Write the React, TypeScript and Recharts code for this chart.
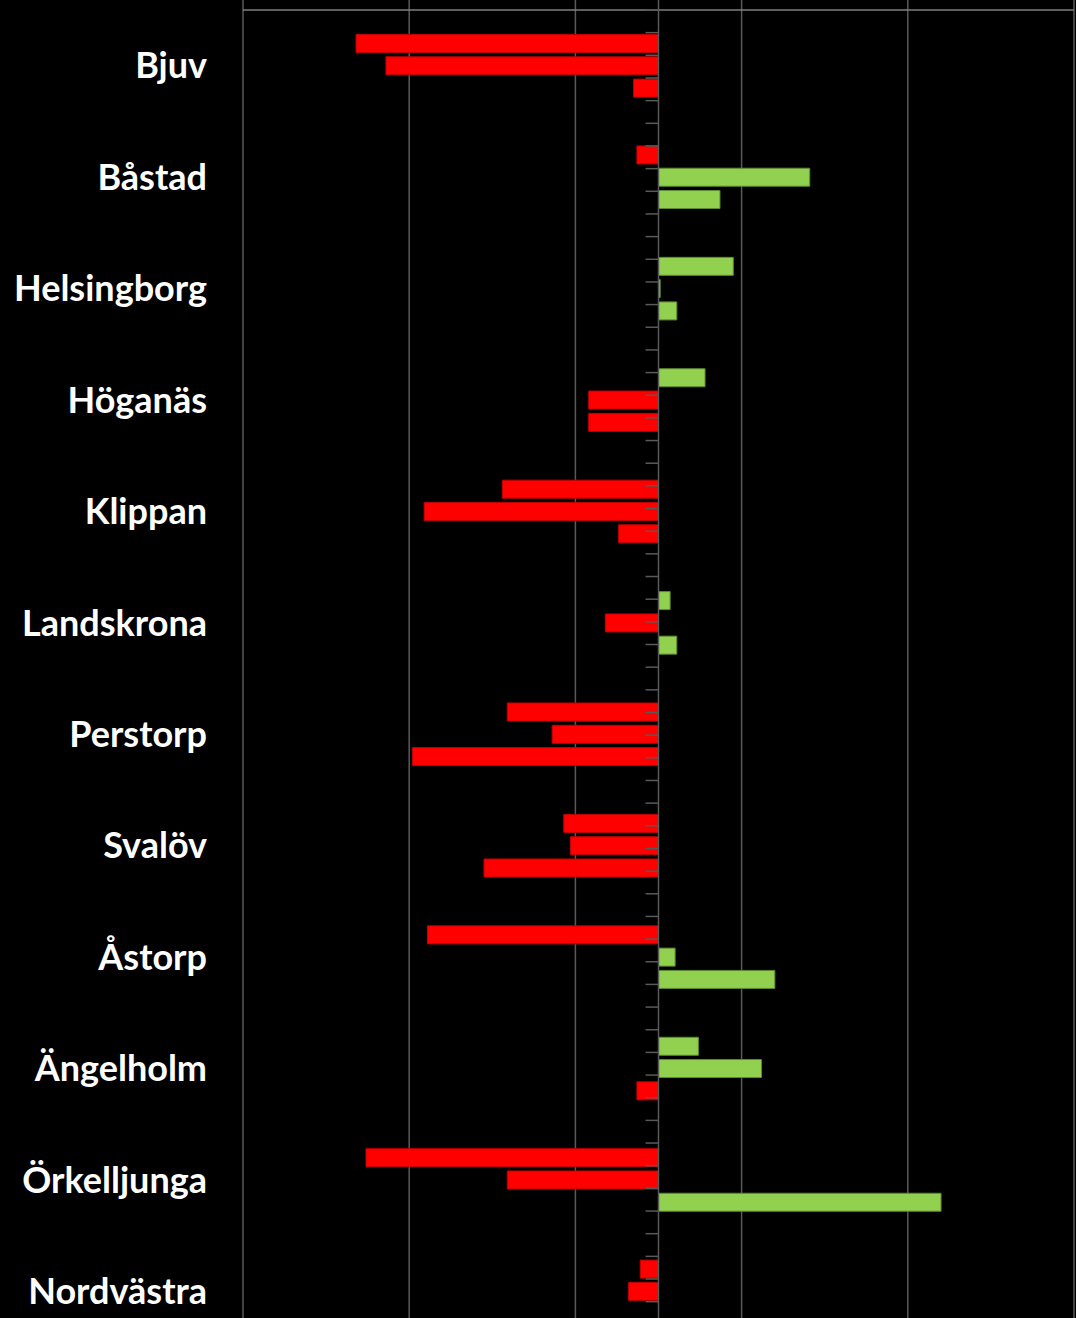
import React from 'react';
import {
    BarChart,
    Bar,
    Cell,
    XAxis,
    YAxis,
    CartesianGrid,
    ReferenceLine,
} from 'recharts';

const municipalities = [
    'Bjuv',
    'Båstad',
    'Helsingborg',
    'Höganäs',
    'Klippan',
    'Landskrona',
    'Perstorp',
    'Svalöv',
    'Åstorp',
    'Ängelholm',
    'Örkelljunga',
    'Nordvästra',
];

// three bars per municipality, top to bottom
const firstBar = [-18.2, -1.3, 4.5, 2.8, -9.4, 0.7, -9.1, -5.7, -13.9, 2.4, -17.6, -1.1];
const secondBar = [-16.4, 9.1, 0.1, -4.2, -14.1, -3.2, -6.4, -5.3, 1.0, 6.2, -9.1, -1.8];
const thirdBar = [-1.5, 3.7, 1.1, -4.2, -2.4, 1.1, -14.8, -10.5, 7.0, -1.3, 17.0, null];

const xTicks = [-25, -15, -5, 5, 15, 25];

interface Row {
    slot: string;
    label: string;
    v: number | null;
}

// each municipality takes five rows: blank, three bars, blank
const rows: Row[] = [];
municipalities.forEach((name, i) => {
    const values = [null, firstBar[i], secondBar[i], thirdBar[i], null];
    values.forEach((v, j) => {
        rows.push({ slot: `${name}-${j}`, label: j === 2 ? name : '', v });
    });
});

const boundaries = rows.map((_, i) => i);
const labelOf = (slot: string) => rows.find((r) => r.slot === slot)?.label ?? '';

const RED = '#FF0000';
const GREEN = '#92D050';
const GRID = '#595959';

export default function App() {
    return (
        <div
            style={{
                position: 'absolute',
                left: 0,
                top: 0,
                width: 1076,
                height: 1318,
                overflow: 'hidden',
                background: '#000000',
            }}
        >
            <BarChart
                width={1076}
                height={1347}
                data={rows}
                layout="vertical"
                margin={{ top: 0, right: 2, left: 0, bottom: 0 }}
                barCategoryGap="10%"
            >
                <CartesianGrid horizontal={false} stroke={GRID} strokeWidth={1.5} />
                <XAxis type="number" domain={[-25, 25]} ticks={xTicks} hide />
                <YAxis
                    type="category"
                    dataKey="slot"
                    width={243}
                    padding={{ top: 10, bottom: 0 }}
                    interval={0}
                    axisLine={false}
                    tickLine={false}
                    tickSize={0}
                    tickMargin={36}
                    tickFormatter={labelOf}
                    tick={{
                        fill: '#FFFFFF',
                        fontSize: 36,
                        fontWeight: 'bold',
                        fontFamily: 'Lato, sans-serif',
                    }}
                />
                <YAxis
                    yAxisId="num"
                    type="number"
                    domain={[0, rows.length]}
                    padding={{ top: 10, bottom: 0 }}
                    allowDataOverflow
                    reversed
                    hide
                />
                <ReferenceLine
                    y={rows[0].slot}
                    position="start"
                    stroke="#7F7F7F"
                    strokeWidth={1.5}
                />
                <ReferenceLine
                    yAxisId="num"
                    segment={[
                        { x: -24.99, y: 0 },
                        { x: 24.99, y: 0 },
                    ]}
                    stroke="#7F7F7F"
                    strokeWidth={1.5}
                />
                <Bar dataKey="v" isAnimationActive={false} strokeWidth={1}>
                    {rows.map((r) => (
                        <Cell
                            key={r.slot}
                            fill={(r.v ?? 0) < 0 ? RED : GREEN}
                            stroke={(r.v ?? 0) < 0 ? '#C00000' : '#5E8A32'}
                        />
                    ))}
                </Bar>
                <ReferenceLine x={0} yAxisId="num" stroke={GRID} strokeWidth={1.5} />
                {boundaries.map((b) => (
                    <ReferenceLine
                        key={`tick-${b}`}
                        yAxisId="num"
                        segment={[
                            { x: -0.78, y: b },
                            { x: 0, y: b },
                        ]}
                        stroke={GRID}
                        strokeWidth={1.5}
                    />
                ))}
            </BarChart>
        </div>
    );
}
